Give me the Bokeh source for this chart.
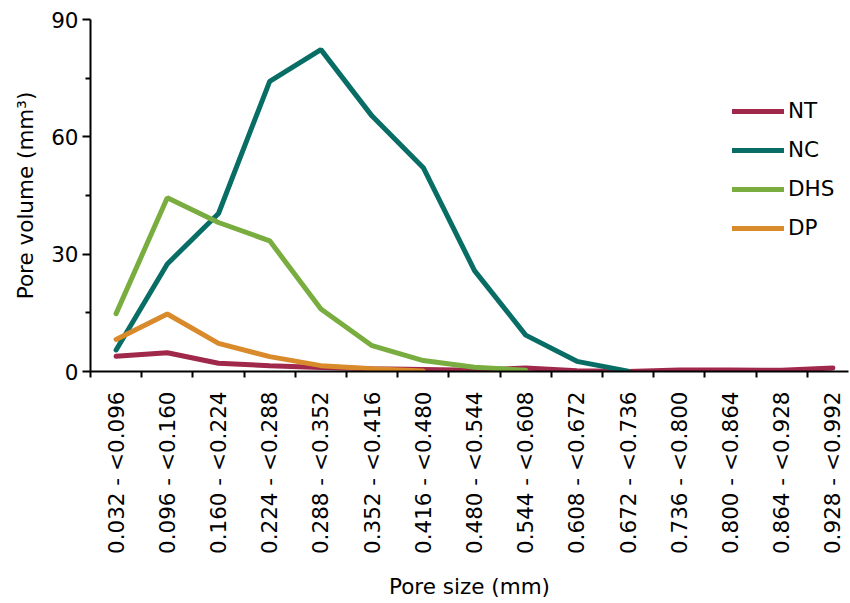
import numpy as np
from bokeh.plotting import figure
from bokeh.models import FixedTicker, Legend, LegendItem, Range1d
from bokeh.embed import file_html
from bokeh.resources import INLINE

categories = ["0.032 - <0.096", "0.096 - <0.160", "0.160 - <0.224", "0.224 - <0.288",
              "0.288 - <0.352", "0.352 - <0.416", "0.416 - <0.480", "0.480 - <0.544",
              "0.544 - <0.608", "0.608 - <0.672", "0.672 - <0.736", "0.736 - <0.800",
              "0.800 - <0.864", "0.864 - <0.928", "0.928 - <0.992"]
nt = [3.9, 4.8, 2.1, 1.5, 1.0, 0.7, 0.5, 0.3, 0.9, 0.2, 0.0, 0.4, 0.4, 0.3, 0.9]
nc = [5.5, 27.5, 40.4, 74.2, 82.3, 65.3, 52.1, 25.8, 9.3, 2.6, 0.1]
dhs = [14.8, 44.4, 38.1, 33.4, 16.0, 6.6, 2.8, 1.1, 0.3]
dp = [8.2, 14.7, 7.2, 3.8, 1.5, 0.7, 0.1]
y_ticks = [0, 30, 60, 90]
y_minor = [15, 45, 75]

series = [("NT", nt, "#A0284A"), ("NC", nc, "#086D65"),
          ("DHS", dhs, "#79AD3F"), ("DP", dp, "#D98A2A")]

FONT = "DejaVu Sans"
FS = "21.5px"
step = 51.2
fw, fh = 758, 352

p = figure(frame_width=fw, frame_height=fh, output_backend="svg", toolbar_location=None,
           x_range=Range1d(-0.5, -0.5 + fw / step), y_range=Range1d(0, 90),
           min_border_left=90, min_border_right=2, min_border_top=19, min_border_bottom=224)
p.outline_line_color = None
p.grid.visible = False
p.background_fill_color = "white"

idx = list(range(len(categories)))
items = []
for name, vals, col in series:
    r = p.line(idx[:len(vals)], vals, line_color=col, line_width=5, line_cap="round")
    items.append(LegendItem(label=name, renderers=[r]))

xa = p.xaxis[0]
xa.ticker = FixedTicker(ticks=idx, minor_ticks=[i - 0.5 for i in range(len(categories) + 1)])
xa.major_label_overrides = {i: c for i, c in zip(idx, categories)}
xa.major_label_orientation = np.pi / 2
xa.major_tick_out = 0
xa.major_tick_in = 0
xa.minor_tick_out = 6
xa.minor_tick_in = 0
xa.major_label_standoff = 14
xa.axis_label = "Pore size (mm)"
xa.axis_label_standoff = 17

ya = p.yaxis[0]
ya.ticker = FixedTicker(ticks=y_ticks, minor_ticks=y_minor)
ya.major_tick_out = 8
ya.major_tick_in = 0
ya.minor_tick_out = 5
ya.minor_tick_in = 0
ya.major_label_standoff = 4
ya.axis_label = "Pore volume (mm³)"
ya.axis_label_standoff = 10

for ax in (xa, ya):
    ax.axis_line_width = 2
    ax.axis_line_color = "black"
    ax.major_tick_line_width = 2
    ax.minor_tick_line_width = 2
    ax.major_tick_line_color = "black"
    ax.minor_tick_line_color = "black"
    ax.major_label_text_font = FONT
    ax.major_label_text_font_size = FS
    ax.major_label_text_color = "black"
    ax.axis_label_text_font = FONT
    ax.axis_label_text_font_size = FS
    ax.axis_label_text_font_style = "normal"
    ax.axis_label_text_color = "black"

legend = Legend(items=items, location=(642, 131), padding=0, margin=0,
                glyph_width=52, glyph_height=20, spacing=14, label_standoff=4,
                label_text_font=FONT, label_text_font_size=FS, label_text_color="black",
                border_line_color=None, background_fill_alpha=0)
p.add_layout(legend, "center")

open("out.html", "w").write(file_html(p, INLINE))
